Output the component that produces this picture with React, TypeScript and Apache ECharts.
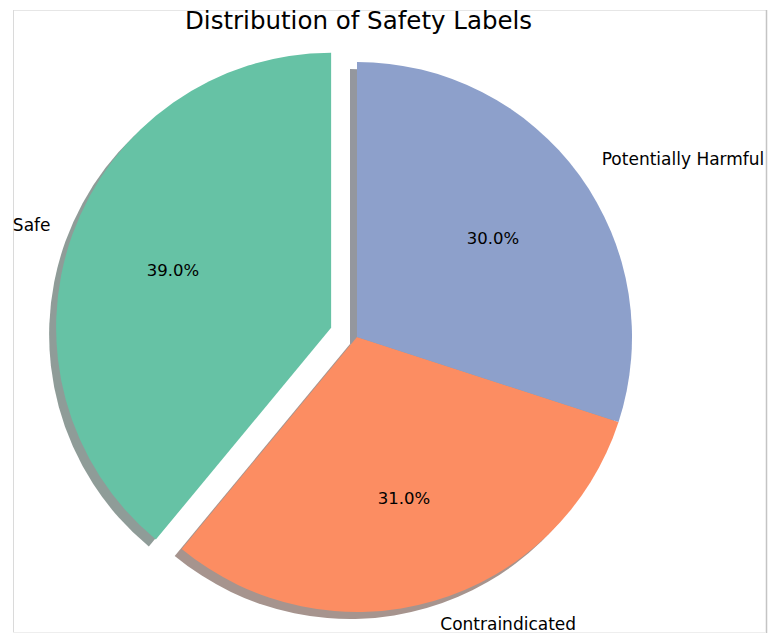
import React, { useEffect, useRef } from 'react';
import * as echarts from 'echarts';

const categories = ['Safe', 'Contraindicated', 'Potentially Harmful'];
const values = [39, 31, 30];
const colors = ['#66c2a5', '#fc8d62', '#8da0cb'];
const shadowColors = ['#8f9c98', '#a6948e', '#94979e'];
const exploded = [true, false, false];
const titleText = 'Distribution of Safety Labels';

const CX = 357;
const CY = 337;
const R = 275;
const EXPLODE = 0.1 * R;
const SH = 7;

export default function App() {
  const ref = useRef<HTMLDivElement>(null);
  useEffect(() => {
    if (!ref.current) return;
    const chart = echarts.init(ref.current, undefined, { renderer: 'svg' });
    const font = 'DejaVu Sans';
    const baseSeries = {
      type: 'pie' as const,
      startAngle: 90,
      clockwise: false,
      selectedMode: 'multiple' as const,
      selectedOffset: EXPLODE,
      avoidLabelOverlap: false,
      emphasis: { disabled: true },
      animation: false,
    };
    chart.setOption({
      animation: false,
      backgroundColor: '#ffffff',
      title: {
        text: titleText,
        left: 185,
        top: 8,
        padding: 0,
        textStyle: { fontFamily: font, fontSize: 24.5, fontWeight: 'normal', color: '#000' },
      },
      graphic: [
        { type: 'line', silent: true, shape: { x1: 13, y1: 10.5, x2: 766, y2: 10.5 }, style: { stroke: '#e6e6e6', lineWidth: 1 } },
        { type: 'line', silent: true, shape: { x1: 13.5, y1: 10, x2: 13.5, y2: 633 }, style: { stroke: '#dadada', lineWidth: 1 } },
        { type: 'line', silent: true, shape: { x1: 766.5, y1: 10, x2: 766.5, y2: 633 }, style: { stroke: '#c4c4c4', lineWidth: 1.5 } },
        { type: 'line', silent: true, shape: { x1: 13, y1: 632.5, x2: 766, y2: 632.5 }, style: { stroke: '#eeeeee', lineWidth: 1 } },
      ],
      series: [
        {
          ...baseSeries,
          z: 1,
          silent: true,
          center: [CX - SH, CY + SH],
          radius: [0, R],
          label: { show: false },
          labelLine: { show: false },
          data: categories.map((c, i) => ({
            name: c,
            value: values[i],
            selected: exploded[i],
            itemStyle: { color: shadowColors[i] },
          })),
        },
        {
          ...baseSeries,
          z: 2,
          center: [CX, CY],
          radius: [0, R],
          label: {
            show: true,
            position: 'outside',
            formatter: '{b}',
            fontFamily: font,
            fontSize: 17,
            lineHeight: 16,
            color: '#000',
            distanceToLabelLine: 0,
            bleedMargin: 0,
          },
          labelLine: { show: false, length: EXPLODE, length2: 0 },
          itemStyle: { borderWidth: 0 },
          data: categories.map((c, i) => ({
            name: c,
            value: values[i],
            selected: exploded[i],
            itemStyle: { color: colors[i] },
            label: i === 0 ? { distanceToLabelLine: -4 } : undefined,
            labelLine: i === 1 ? { show: false, length: EXPLODE - 4, length2: 0 } : undefined,
          })),
        },
        {
          ...baseSeries,
          z: 3,
          silent: true,
          center: [CX, CY],
          radius: [0.2 * R, R],
          label: {
            show: true,
            position: 'inside',
            formatter: (p: any) => `${Number(p.percent).toFixed(1)}%`,
            fontFamily: font,
            fontSize: 16.5,
            color: '#000',
          },
          labelLine: { show: false },
          itemStyle: { color: 'rgba(0,0,0,0)', borderWidth: 0 },
          data: categories.map((c, i) => ({
            name: c,
            value: values[i],
            selected: exploded[i],
          })),
        },
      ],
    });
    return () => chart.dispose();
  }, []);
  return (
    <div
      ref={ref}
      style={{ position: 'absolute', left: 0, top: 0, width: 773, height: 635 }}
    />
  );
}
